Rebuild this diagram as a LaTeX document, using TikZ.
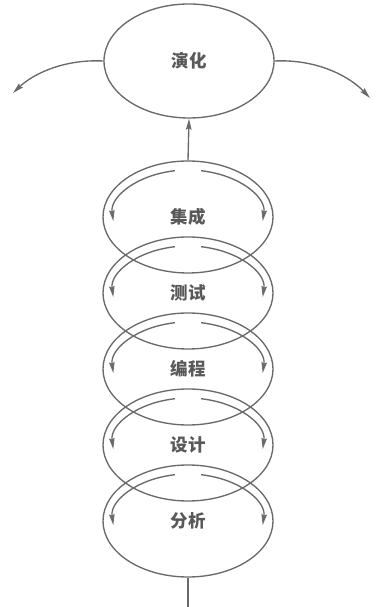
\documentclass[tikz,border=0pt]{standalone}
\usepackage{fontspec}
\newfontfamily\cjk{Noto Sans CJK SC}
\usetikzlibrary{shapes.geometric,arrows.meta,calc}
\definecolor{ink}{HTML}{6A6A6A}
\definecolor{label}{HTML}{595959}
\begin{document}
\begin{tikzpicture}[x=1pt,y=1pt,
  phase/.style={ellipse,draw=ink,line width=1.35pt,minimum width=170pt,minimum height=112pt,
    inner sep=0pt,font=\cjk\bfseries\fontsize{17.5}{17.5}\selectfont,text=label},
  flow/.style={draw=ink,line width=1.35pt,-{Stealth[length=11pt,width=5.5pt,inset=1.5pt]}},
  plain/.style={draw=ink,line width=1.35pt}]
\useasboundingbox (0,0) rectangle (375,607);
% evolution at the top
\node[phase,minimum height=114pt] (evo) at (189,546) {演化};
% stacked development stages
\node[phase] (s1) at (188,390) {集成};
\node[phase] (s2) at (188,314) {测试};
\node[phase] (s3) at (188,238) {编程};
\node[phase] (s4) at (188,162) {设计};
\node[phase] (s5) at (188,86)  {分析};
% circulating arrows inside each stage
\foreach \n in {s1,s2,s3,s4,s5}{
  \draw[flow] ($(\n.center)+(100:75pt and 47pt)$) arc[start angle=100,end angle=185,x radius=75pt,y radius=47pt];
  \draw[flow] ($(\n.center)+(80:75pt and 47pt)$) arc[start angle=80,end angle=-5,x radius=75pt,y radius=47pt];
}
% links
\coordinate (base) at (188,0);
\draw[plain] (base) -- (s5.south);
\draw[flow] (s1.north) -- (evo.south);
\coordinate (outl) at (13,514);
\coordinate (outr) at (370,509);
\draw[flow] (evo.west) .. controls (62,548) and (32,532) .. (outl);
\draw[flow] (evo.east) .. controls (318,548) and (350,530) .. (outr);
\end{tikzpicture}
\end{document}
